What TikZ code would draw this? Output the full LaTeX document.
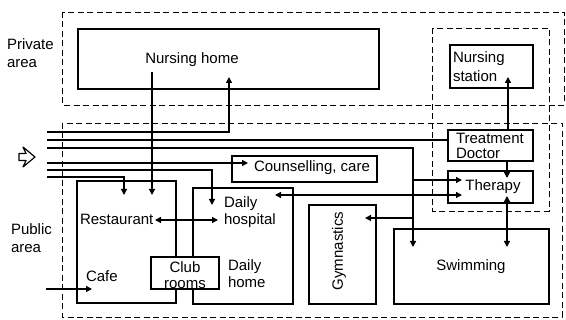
\documentclass[tikz,border=0pt]{standalone}
\usepackage{fontspec}
\setmainfont{Liberation Sans}
\usetikzlibrary{arrows.meta,fit}
\begin{document}
\begin{tikzpicture}[x=1pt,y=-1pt,
  every node/.style={font=\fontsize{15}{18}\selectfont, inner sep=0pt, outer sep=0pt},
  zone/.style={draw, line width=0.9pt, dash pattern=on 6pt off 3.5pt},
  room/.style={draw, line width=1.3pt, fill=white, inner sep=0pt, outer sep=0pt},
  wire/.style={line width=1.3pt, >={Triangle[length=6pt,width=6pt]}},
  lbl/.style={align=left, anchor=base west},
]
\useasboundingbox (0,0) rectangle (566,320);
\fill[white] (0,0) rectangle (566,320);

% zones
\draw[zone] (62,12) rectangle (564,105);
\draw[zone] (62,123) rectangle (562,317);
\draw[zone] (432,28) rectangle (549,211);

% rooms
\node[room, fit={(78,29) (379,89)}] (nh) {};
\node[room, fit={(450,45) (533,88)}] (ns) {};
\node[room, fit={(448,130) (533,161)}] (td) {};
\node[room, fit={(448,171) (533,203)}] (th) {};
\node[room, fit={(232,156) (377,182)}] (cc) {};
\node[room, fit={(77,181) (176,303)}] (rest) {};
\node[room, fit={(193,188) (293,304)}] (dh) {};
\node[room, fit={(151,257) (219,289)}] (club) {};
\node[room, fit={(309,205) (376,304)}] (gym) {};
\node[room, fit={(394,229) (549,304)}] (swim) {};

% labels (multi-line labels sit on the baseline of their last line)
\node[lbl] (tPriv) at (7,68) {Private\\area};
\node[lbl] (tPub) at (11,253) {Public\\area};
\node (tNh) at (192,60) {Nursing home};
\node[lbl, font=\fontsize{15}{18.5}\selectfont] (tNs) at (453,81.5) {Nursing\\station};
\node[lbl, font=\fontsize{15}{15}\selectfont] (tTd) at (456,159) {Treatment\\Doctor};
\node (tTh) at (493,187) {Therapy};
\node (tCc) at (312,168) {Counselling, care};
\node[lbl] (tRest) at (80,225) {Restaurant};
\node[lbl, font=\fontsize{15}{17}\selectfont] (tDh) at (224,225) {Daily\\hospital};
\node[lbl] (tCafe) at (86,282) {Cafe};
\node[align=center, font=\fontsize{15}{16}\selectfont] (tClub) at (185,275) {Club\\rooms};
\node[lbl, font=\fontsize{15}{17}\selectfont] (tDhm) at (228,288) {Daily\\home};
\node[rotate=90] (tGym) at (339,251) {Gymnastics};
\node (tSwim) at (471,267) {Swimming};

% entrance sign
\draw[line width=1.2pt, line join=round] (19,153.5) -- (26,153.5) -- (23,147) -- (35,157) -- (23,167) -- (26,160.5) -- (19,160.5) -- cycle;

% connector ends
\coordinate (e1) at (47,132);
\coordinate (e2) at (47,140);
\coordinate (e3) at (47,148);
\coordinate (e4) at (47,163);
\coordinate (e5) at (47,170);
\coordinate (e6) at (47,177);
\coordinate (nhA) at (229,77);
\coordinate (swA) at (413,247);
\coordinate (b1) at (413,180);
\coordinate (thA) at (462,180);
\coordinate (b2) at (413,218);
\coordinate (gymA) at (365,218);
\coordinate (ccA) at (248,163);
\coordinate (dhA) at (212,205);
\coordinate (restA) at (124,195);
\coordinate (nhB) at (152,72);
\coordinate (restB) at (152,195);
\coordinate (restC) at (155,220);
\coordinate (dhC) at (218,220);
\coordinate (cafeIn) at (46,289);
\coordinate (cafeA) at (92,289);
\coordinate (dhD) at (275,195);
\coordinate (thD) at (462,195);
\coordinate (nsA) at (508,77);
\coordinate (tdB) at (507,161);
\coordinate (thB) at (507,178);
\coordinate (thC) at (507,196);
\coordinate (swC) at (507,247);

% connectors
\draw[wire,->] (e1) -| (nhA);
\draw[wire] (e2) -- (e2 -| td.west);
\draw[wire,->] (e3) -| (swA);
\draw[wire,->] (b1) -- (thA);
\draw[wire,->] (b2) -- (gymA);
\draw[wire,->] (e4) -- (ccA);
\draw[wire,->] (e5) -| (dhA);
\draw[wire,->] (e6) -| (restA);
\draw[wire,->] (nhB) -- (restB);
\draw[wire,<->] (restC) -- (dhC);
\draw[wire,->] (cafeIn) -- (cafeA);
\draw[wire,<->] (dhD) -- (thD);
\draw[wire,->] (nsA |- td.north) -- (nsA);
\draw[wire,->] (tdB) -- (thB);
\draw[wire,<->] (thC) -- (swC);
\end{tikzpicture}
\end{document}
